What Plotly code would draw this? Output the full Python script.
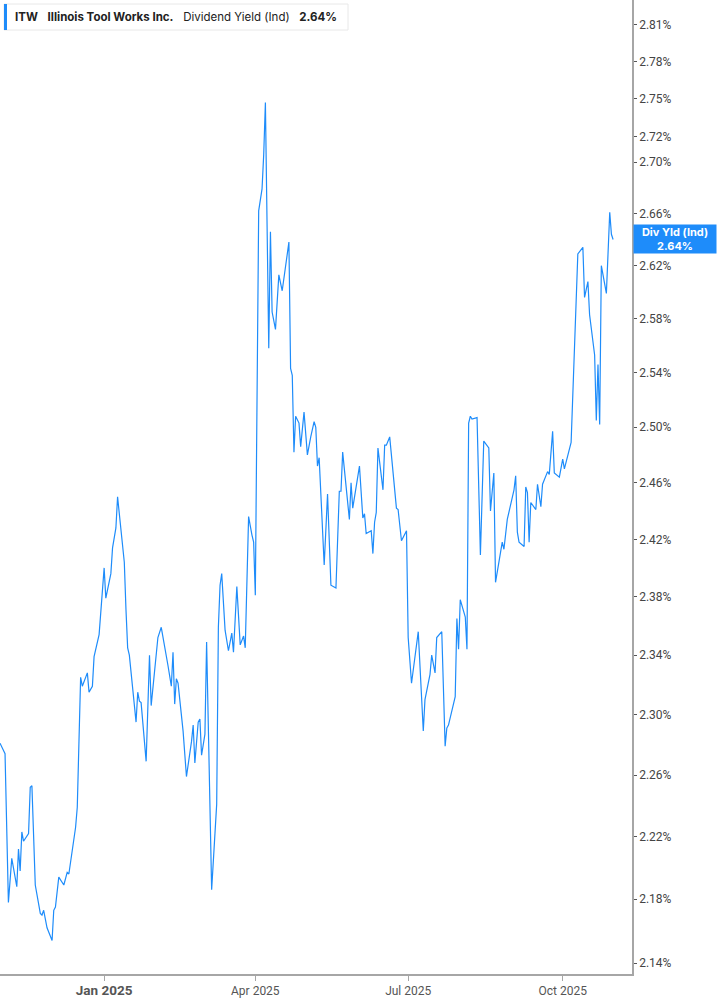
import math
import plotly.graph_objects as go

# ITW indicated dividend yield
dates = [
    "2024-10-31", "2024-11-03", "2024-11-05", "2024-11-07", "2024-11-10", "2024-11-11",
    "2024-11-12", "2024-11-13", "2024-11-14", "2024-11-17", "2024-11-18", "2024-11-19",
    "2024-11-21", "2024-11-24", "2024-11-25", "2024-11-26", "2024-11-28", "2024-12-01",
    "2024-12-02", "2024-12-03", "2024-12-05", "2024-12-08", "2024-12-10", "2024-12-11",
    "2024-12-15", "2024-12-16", "2024-12-18", "2024-12-19", "2024-12-22", "2024-12-23",
    "2024-12-25", "2024-12-26", "2024-12-29", "2024-12-30", "2025-01-01", "2025-01-02",
    "2025-01-05", "2025-01-06", "2025-01-08", "2025-01-09", "2025-01-11", "2025-01-13",
    "2025-01-14", "2025-01-15", "2025-01-16", "2025-01-20", "2025-01-21", "2025-01-22",
    "2025-01-23", "2025-01-26", "2025-01-28", "2025-01-29", "2025-02-02", "2025-02-04",
    "2025-02-08", "2025-02-10", "2025-02-11", "2025-02-12", "2025-02-13", "2025-02-14",
    "2025-02-17", "2025-02-19", "2025-02-22", "2025-02-23", "2025-02-24", "2025-02-26",
    "2025-02-27", "2025-02-28", "2025-03-02", "2025-03-03", "2025-03-06", "2025-03-09",
    "2025-03-10", "2025-03-11", "2025-03-12", "2025-03-14", "2025-03-16", "2025-03-18",
    "2025-03-19", "2025-03-21", "2025-03-23", "2025-03-25", "2025-03-26", "2025-03-28",
    "2025-03-30", "2025-03-31", "2025-04-01", "2025-04-03", "2025-04-05", "2025-04-06",
    "2025-04-07", "2025-04-09", "2025-04-10", "2025-04-11", "2025-04-13", "2025-04-15",
    "2025-04-17", "2025-04-21", "2025-04-22", "2025-04-23", "2025-04-24", "2025-04-25",
    "2025-04-27", "2025-04-28", "2025-04-30", "2025-05-02", "2025-05-04", "2025-05-06",
    "2025-05-07", "2025-05-08", "2025-05-09", "2025-05-12", "2025-05-14", "2025-05-16",
    "2025-05-19", "2025-05-21", "2025-05-22", "2025-05-23", "2025-05-27", "2025-05-28",
    "2025-05-29", "2025-06-02", "2025-06-04", "2025-06-05", "2025-06-06", "2025-06-09",
    "2025-06-10", "2025-06-11", "2025-06-12", "2025-06-13", "2025-06-16", "2025-06-17",
    "2025-06-18", "2025-06-20", "2025-06-24", "2025-06-25", "2025-06-27", "2025-06-30",
    "2025-07-01", "2025-07-03", "2025-07-07", "2025-07-10", "2025-07-11", "2025-07-14",
    "2025-07-15", "2025-07-17", "2025-07-18", "2025-07-21", "2025-07-23", "2025-07-24",
    "2025-07-25", "2025-07-29", "2025-07-30", "2025-07-31", "2025-08-01", "2025-08-04",
    "2025-08-05", "2025-08-06", "2025-08-07", "2025-08-08", "2025-08-11", "2025-08-13",
    "2025-08-15", "2025-08-18", "2025-08-19", "2025-08-21", "2025-08-22", "2025-08-25",
    "2025-08-26", "2025-08-27", "2025-08-29", "2025-09-02", "2025-09-03", "2025-09-04",
    "2025-09-05", "2025-09-08", "2025-09-09", "2025-09-10", "2025-09-11", "2025-09-12",
    "2025-09-15", "2025-09-16", "2025-09-18", "2025-09-19", "2025-09-22", "2025-09-23",
    "2025-09-25", "2025-09-26", "2025-09-29", "2025-10-01", "2025-10-02", "2025-10-06",
    "2025-10-07", "2025-10-10", "2025-10-13", "2025-10-14", "2025-10-16", "2025-10-17",
    "2025-10-20", "2025-10-21", "2025-10-22", "2025-10-23", "2025-10-24", "2025-10-27",
    "2025-10-29", "2025-10-30", "2025-10-31",
]

yields = [
    2.281, 2.274, 2.178, 2.206, 2.188, 2.212,
    2.198, 2.223, 2.217, 2.222, 2.252, 2.253,
    2.189, 2.171, 2.170, 2.173, 2.162, 2.154,
    2.173, 2.175, 2.194, 2.189, 2.197, 2.196,
    2.226, 2.239, 2.325, 2.319, 2.328, 2.315,
    2.319, 2.339, 2.354, 2.369, 2.400, 2.379,
    2.396, 2.414, 2.428, 2.450, 2.429, 2.404,
    2.371, 2.345, 2.340, 2.295, 2.315, 2.309,
    2.308, 2.269, 2.340, 2.306, 2.352, 2.359,
    2.333, 2.319, 2.342, 2.307, 2.324, 2.321,
    2.289, 2.259, 2.282, 2.293, 2.268, 2.295,
    2.297, 2.273, 2.287, 2.349, 2.186, 2.241,
    2.359, 2.388, 2.396, 2.357, 2.343, 2.355,
    2.342, 2.387, 2.347, 2.353, 2.345, 2.436,
    2.423, 2.418, 2.381, 2.662, 2.679, 2.706,
    2.747, 2.558, 2.646, 2.585, 2.572, 2.613,
    2.601, 2.638, 2.543, 2.538, 2.482, 2.508,
    2.503, 2.486, 2.511, 2.480, 2.493, 2.504,
    2.500, 2.472, 2.478, 2.402, 2.452, 2.388,
    2.386, 2.454, 2.454, 2.482, 2.434, 2.460,
    2.442, 2.472, 2.435, 2.438, 2.424, 2.426,
    2.410, 2.432, 2.439, 2.485, 2.455, 2.487,
    2.487, 2.493, 2.442, 2.441, 2.419, 2.426,
    2.352, 2.321, 2.356, 2.289, 2.310, 2.327,
    2.340, 2.328, 2.352, 2.356, 2.279, 2.291,
    2.293, 2.312, 2.365, 2.344, 2.378, 2.366,
    2.344, 2.503, 2.508, 2.506, 2.507, 2.409,
    2.490, 2.485, 2.440, 2.467, 2.390, 2.413,
    2.418, 2.413, 2.434, 2.455, 2.465, 2.425,
    2.418, 2.415, 2.457, 2.453, 2.418, 2.446,
    2.441, 2.459, 2.443, 2.459, 2.468, 2.466,
    2.497, 2.467, 2.464, 2.477, 2.470, 2.489,
    2.520, 2.629, 2.634, 2.596, 2.608, 2.583,
    2.553, 2.505, 2.546, 2.502, 2.620, 2.599,
    2.661, 2.644, 2.640,
]

y_ticks = [2.14, 2.18, 2.22, 2.26, 2.30, 2.34, 2.38, 2.42, 2.46, 2.50,
           2.54, 2.58, 2.62, 2.66, 2.70, 2.72, 2.75, 2.78, 2.81]
x_ticks = ["2025-01-01", "2025-04-01", "2025-07-01", "2025-10-01"]
x_tick_labels = ["Jan 2025", "Apr 2025", "Jul 2025", "Oct 2025"]

ticker = "ITW"
company = "Illinois Tool Works Inc."
metric = "Dividend Yield (Ind)"
short_metric = "Div Yld (Ind)"

BLUE = "#1E8CFA"
AXIS = "#a6a6a6"
TEXT = "#444444"

W, H = 717, 1005
L, R, T, B = 0, 85, 0, 31
pw = W - L - R
ph = H - T - B

last = yields[-1]

fig = go.Figure()
fig.add_trace(go.Scatter(
    x=dates, y=yields, mode="lines",
    line=dict(color=BLUE, width=1.2),
    hoverinfo="x+y", showlegend=False,
))

# Jan 2025 is the year boundary, shown larger and bold
ticktext = []
for lab in x_tick_labels:
    if lab.startswith("Jan"):
        ticktext.append("<b><span style='font-size:13.5px'>" + lab + "</span></b>")
    else:
        ticktext.append(lab)

fig.update_layout(
    width=W, height=H,
    margin=dict(l=L, r=R, t=T, b=B),
    paper_bgcolor="white", plot_bgcolor="white",
    font=dict(family="Roboto, Inter, sans-serif", size=12, color=TEXT),
    xaxis=dict(
        type="date",
        range=["2024-10-31", "2025-11-11 06:00"],
        tickvals=x_ticks, ticktext=ticktext,
        showgrid=False, zeroline=False,
        showline=True, linecolor=AXIS, linewidth=1.5,
        ticks="outside", ticklen=5, tickcolor=AXIS,
        tickfont=dict(size=12, color="#555555"),
    ),
    yaxis=dict(
        type="log", side="right",
        range=[math.log10(2.1332), math.log10(2.830)],
        tickvals=y_ticks, ticktext=[f"{v:.2f}%" for v in y_ticks],
        showgrid=False, zeroline=False,
        showline=True, linecolor=AXIS, linewidth=1.5,
        ticks="outside", ticklen=3, tickcolor="#555555",
        tickfont=dict(size=12, color=TEXT),
    ),
)

# header box in the top-left corner
fig.add_shape(type="rect", xref="paper", yref="paper",
              x0=4 / pw, x1=348 / pw, y0=1 - 30 / ph, y1=1 - 4 / ph,
              line=dict(color="#e8e8e8", width=1), fillcolor="white")
fig.add_shape(type="rect", xref="paper", yref="paper",
              x0=4 / pw, x1=7 / pw, y0=1 - 30 / ph, y1=1 - 4 / ph,
              line=dict(width=0), fillcolor=BLUE)
sp = "\u00a0\u00a0\u00a0"
fig.add_annotation(
    xref="paper", yref="paper", x=13 / pw, y=1 - 17 / ph,
    xanchor="left", yanchor="middle", showarrow=False,
    text="<b>" + ticker + "</b>" + sp + "<b>" + company + "</b>" + sp
         + metric + sp + "<b>" + f"{last:.2f}%" + "</b>",
    font=dict(family="Inter, Roboto, sans-serif", size=11.5, color="#222222"),
)

# last value tag on the right axis
fig.add_annotation(
    xref="paper", yref="y", x=1, y=math.log10(last),
    xanchor="left", yanchor="middle", showarrow=False,
    text="<b>" + short_metric + "</b><br><b>" + f"{last:.2f}%" + "</b>",
    font=dict(family="Inter, Roboto, sans-serif", size=11, color="white"),
    bgcolor=BLUE, width=80, height=26, borderpad=1, xshift=1,
)

fig.write_html("out.html", config={"displayModeBar": False},
               post_script="document.body.style.margin='0';")
